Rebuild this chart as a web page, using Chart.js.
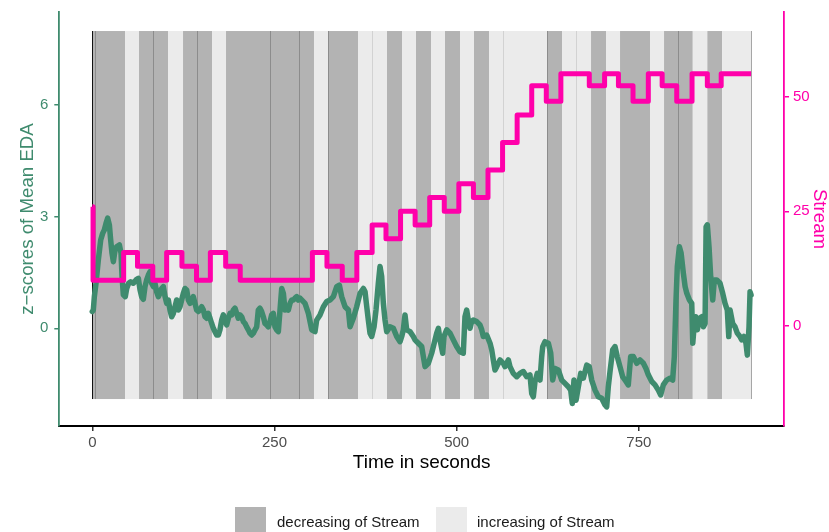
<!DOCTYPE html>
<html>
<head>
<meta charset="utf-8">
<script src="https://cdn.jsdelivr.net/npm/chart.js@4.4.0/dist/chart.umd.min.js"></script>
<style>
  html, body { margin: 0; padding: 0; background: #fff; }
  #wrap { position: relative; width: 829px; height: 532px; overflow: hidden; font-family: "Liberation Sans", Arial, sans-serif; }
  #chart { position: absolute; left: 0; top: 0; }
  .key { position: absolute; top: 507px; width: 31px; height: 29px; }
  .lab { position: absolute; top: 513px; font-size: 15px; line-height: 18px; color: #1a1a1a; white-space: nowrap; }
</style>
</head>
<body>
<div id="wrap">
  <canvas id="chart" width="829" height="532"></canvas>
  <div class="key" style="left:235px;background:#b3b3b3"></div>
  <div class="lab" style="left:277px">decreasing of Stream</div>
  <div class="key" style="left:436px;background:#ebebeb"></div>
  <div class="lab" style="left:477px">increasing of Stream</div>
</div>
<script>
// EDA z-scores over time (seconds)
const edaTime = [
  0, 1.4, 2.8, 5.1, 8.3, 11.5, 14.2, 16.5, 18.8, 21.1, 23.4, 25.2, 27.0, 28.9, 31.2, 33.4, 37.1, 39.4, 40.8, 42.6,
  45.3, 47.2, 49.9, 52.7, 56.3, 60.0, 63.2, 65.5, 67.7, 70.0, 72.3, 74.6, 76.9, 79.2, 81.5, 83.8, 86.0, 88.3, 90.6, 92.9,
  95.2, 97.5, 99.8, 102.1, 104.3, 106.6, 108.9, 111.2, 113.5, 115.8, 118.1, 120.4, 122.6, 124.9, 127.2, 129.5, 131.8, 134.1, 136.4, 138.6,
  140.9, 143.2, 145.5, 147.8, 150.1, 152.4, 154.7, 157.0, 159.2, 161.5, 163.8, 166.1, 168.4, 170.7, 173.0, 175.2, 177.5, 179.8, 182.1, 184.4,
  186.7, 189.0, 191.3, 193.5, 195.8, 198.1, 200.4, 202.7, 205.0, 207.3, 209.6, 211.8, 214.1, 216.4, 218.7, 221.0, 223.3, 225.6, 227.8, 230.1,
  232.4, 234.7, 237.0, 239.3, 241.6, 243.9, 246.1, 248.4, 250.7, 253.0, 255.3, 257.6, 259.9, 262.2, 264.4, 266.7, 269.0, 271.3, 273.6, 275.9,
  278.2, 280.5, 282.7,
  285.0, 291.9, 296.5, 301.1, 305.6, 307.9, 312.5, 317.1, 321.7, 326.2, 330.8, 335.4, 339.0, 342.2, 346.8, 351.4, 353.7, 358.2, 362.8, 367.4,
  372.0, 374.3, 376.6, 378.8, 381.1, 383.4, 386.6, 389.3, 392.5, 394.8, 397.1, 399.4, 401.7, 404.0, 408.5, 413.1, 417.7, 422.3, 424.6, 426.8,
  429.1, 431.4, 436.0, 440.5, 442.8, 447.4, 452.0, 454.3, 456.6, 461.1, 465.7, 468.0, 472.6, 474.9, 477.2, 480.8, 482.6, 486.3, 490.9, 495.4,
  500.0, 504.6, 509.1, 511.4, 513.8, 516.0, 518.3, 520.6, 522.8, 527.5, 532.0, 534.4, 536.6, 541.2, 545.8, 548.1, 550.3, 552.6, 555.0, 559.5,
  564.0, 566.4, 570.9, 573.2, 577.7, 582.4, 586.9, 591.5, 596.1, 600.6, 603.0, 605.2, 607.5, 610.7, 614.4, 616.7,
  618.1, 621.2, 625.8, 629.1, 631.8, 635.0, 639.5, 644.2, 648.7, 653.2, 656.5, 658.7, 661.0, 663.8, 667.0, 670.2, 673.8, 678.5, 682.0, 685.3,
  689.9, 694.4, 699.0, 703.6, 705.9, 708.1, 710.4, 714.1, 717.3, 720.4, 724.1, 727.8, 732.4, 735.5, 738.8, 742.4, 747.1, 751.6, 756.2, 759.8,
  763.0, 767.7, 772.2, 776.7, 780.0, 783.6, 788.2, 792.8, 796.4, 798.7, 801.0, 802.8, 805.6, 808.0, 811.1, 813.5, 815.8, 819.4, 822.6, 824.0,
  825.8, 828.1, 830.3, 833.1, 836.3, 838.6, 840.9, 842.3, 844.0, 846.3, 848.6, 851.4, 853.6, 856.9, 861.4, 865.1, 868.3, 871.4, 873.4, 875.2,
  878.8, 882.0, 885.1, 888.8, 891.1, 894.3, 897.0, 898.9, 901.2, 902.6, 904.0
];
const edaValue = [
  0.45, 0.49, 0.85, 1.21, 1.84, 2.37, 2.55, 2.64, 2.82, 2.96, 2.78, 2.37, 2.02, 1.79, 2.10, 2.19, 2.24, 2.02, 1.39, 0.90,
  0.85, 1.07, 1.21, 1.25, 1.21, 1.30, 1.34, 1.03, 0.85, 0.78, 1.12, 1.30, 1.43, 1.52, 1.21, 1.12, 1.21, 0.98, 0.85, 0.94,
  1.07, 1.12, 0.85, 0.67, 0.76, 0.49, 0.31, 0.40, 0.58, 0.76, 0.49, 0.58, 0.76, 0.94, 1.07, 1.03, 0.76, 0.67, 0.72, 0.85,
  0.67, 0.49, 0.45, 0.49, 0.58, 0.49, 0.31, 0.27, 0.40, 0.27, 0.13, 0.00, -0.09, -0.18, -0.18, -0.04, 0.22, 0.36, 0.22, 0.09,
  0.27, 0.40, 0.36, 0.49, 0.54, 0.40, 0.27, 0.36, 0.31, 0.18, 0.13, 0.04, -0.04, -0.13, -0.18, -0.13, -0.04, 0.04, 0.49, 0.54,
  0.45, 0.31, 0.13, 0.09, 0.04, 0.18, 0.36, 0.40, 0.04, -0.04, -0.09, 0.49, 1.07, 0.94, 0.49, 0.54, 0.49, 0.67, 0.76, 0.76,
  0.81, 0.85, 0.76,
  0.81, 0.67, 0.40, -0.04, -0.09, 0.22, 0.36, 0.58, 0.72, 0.76, 0.85, 1.12, 1.16, 0.85, 0.58, 0.49, 0.04, 0.27, 0.58, 0.94,
  1.07, 0.98, 0.58, 0.22, -0.13, -0.22, 0.04, 0.49, 1.21, 1.66, 1.39, 0.67, 0.22, -0.09, 0.04, 0.00, -0.22, -0.36, -0.22, -0.04,
  0.36, -0.04, -0.09, -0.22, -0.31, -0.40, -0.49, -0.76, -1.03, -0.94, -0.67, -0.49, -0.13, 0.00, -0.31, -0.67, -0.22, -0.04, -0.13, -0.31,
  -0.49, -0.63, -0.67, 0.31, 0.49, 0.22, 0.00, 0.18, 0.22, 0.18, 0.09, -0.04, -0.22, -0.18, -0.40, -0.58, -0.85, -1.12, -1.03, -0.85,
  -0.94, -1.03, -0.85, -1.03, -1.21, -1.30, -1.21, -1.16, -1.30, -1.25, -1.75, -1.84, -1.43, -1.21, -1.39, -0.76,
  -0.49, -0.36, -0.40, -0.67, -1.39, -1.08, -1.12, -1.39, -1.48, -1.57, -1.66, -2.02, -1.39, -1.93, -1.57, -1.21, -1.34, -0.99, -1.03, -1.39,
  -1.66, -1.84, -1.88, -2.06, -2.11, -1.57, -1.17, -0.58, -0.49, -0.76, -1.03, -1.30, -1.43, -1.52, -0.76, -0.76, -0.94, -0.85, -0.94, -1.08,
  -1.25, -1.43, -1.52, -1.66, -1.79, -1.52, -1.39, -1.34, -1.39, -0.76, 0.76, 1.66, 2.19, 2.02, 1.48, 1.12, 0.94, 0.76, 0.67, -0.40,
  0.04, 0.31, -0.04, 0.27, 0.31, 0.04, 0.13, 2.73, 2.78, 2.19, 1.39, 0.76, 1.30, 1.30, 1.21, 0.94, 0.67, 0.49, -0.22, 0.49,
  0.13, 0.04, -0.13, -0.22, -0.31, -0.22, -0.40, -0.72, 0.04, 0.98, 0.90
];

// Stream level, a step function (value holds from its time until the next)
const streamTime = [0, 1, 43, 62, 83, 102, 123, 143, 162, 183, 203, 302, 322, 343, 363, 384, 403, 423, 443, 463,
  483, 503, 523, 543, 563, 583, 603, 623, 643, 682, 703, 722, 742, 763, 782, 802, 823, 844, 863, 904];
const streamValue = [26, 10, 16, 13, 10, 16, 13, 10, 16, 13, 10, 16, 13, 10, 16, 22, 19, 25, 22, 28,
  25, 31, 28, 34, 40, 46, 52.4, 49, 55, 52.4, 55, 52.4, 49, 55, 52.4, 49, 55, 52.4, 55, 55];

// shaded periods
const bandStart = [0, 44.9, 64.1, 103.9, 124.5, 164.3, 183.5, 304.2, 323.9, 364.6, 404.4, 425.0, 444.2, 464.8,
  484.0, 504.6, 523.8, 544.4, 624.4, 644.6, 684.4, 705.0, 724.2, 765.3, 784.6, 824.0, 844.0, 864.2];
const bandEnd = [44.9, 64.1, 103.9, 124.5, 164.3, 183.5, 304.2, 323.9, 364.6, 404.4, 425.0, 444.2, 464.8, 484.0,
  504.6, 523.8, 544.4, 624.4, 644.6, 684.4, 705.0, 724.2, 765.3, 784.6, 824.0, 844.0, 864.2, 904];
const bandType = ['decreasing', 'increasing', 'decreasing', 'increasing', 'decreasing', 'increasing', 'decreasing',
  'increasing', 'decreasing', 'increasing', 'decreasing', 'increasing', 'decreasing', 'increasing',
  'decreasing', 'increasing', 'decreasing', 'increasing', 'decreasing', 'increasing', 'decreasing',
  'increasing', 'decreasing', 'increasing', 'decreasing', 'increasing', 'decreasing', 'increasing'];
const bandLow = -1.9, bandHigh = 7.985;
// faint joins where neighbouring rectangles meet
const seamTime = [0, 3.7, 83.7, 144.1, 244.3, 284.1, 323.9, 384.2, 564.0, 624.4, 663.8, 804.3, 904];

const xTicks = [0, 250, 500, 750];
const edaTicks = [0, 3, 6];
const streamTicks = [0, 25, 50];

const GREEN = '#3f8b6e';
const PINK = '#ff00aa';
const DARK = '#b3b3b3';
const LIGHT = '#ebebeb';
const FONT = '"Liberation Sans", Arial, sans-serif';

const bandPlugin = {
  id: 'bands',
  beforeDatasetsDraw(chart) {
    const ctx = chart.ctx;
    const xs = chart.scales.x, ys = chart.scales.y;
    const top = ys.getPixelForValue(bandHigh);
    const bottom = ys.getPixelForValue(bandLow);
    ctx.save();
    for (let i = 0; i < bandStart.length; i++) {
      const x1 = xs.getPixelForValue(bandStart[i]);
      const x2 = xs.getPixelForValue(bandEnd[i]);
      ctx.fillStyle = bandType[i] === 'decreasing' ? DARK : LIGHT;
      ctx.fillRect(x1, top, x2 - x1, bottom - top);
    }
    ctx.lineWidth = 1;
    seamTime.forEach((t, k) => {
      const i = bandStart.findIndex((s, j) => t + 0.5 >= s && t + 0.5 < bandEnd[j]);
      if (k === 0) ctx.strokeStyle = '#111';
      else if (i < 0) ctx.strokeStyle = '#a6a6a6';
      else ctx.strokeStyle = bandType[i] === 'decreasing' ? '#8c8c8c' : '#d2d2d2';
      const px = Math.round(xs.getPixelForValue(t)) + 0.5;
      ctx.beginPath();
      ctx.moveTo(px, top);
      ctx.lineTo(px, bottom);
      ctx.stroke();
    });
    ctx.restore();
  }
};

function fixTicks(list) {
  return function (scale) { scale.ticks = list.map(v => ({ value: v })); };
}

new Chart(document.getElementById('chart').getContext('2d'), {
  type: 'line',
  data: {
    datasets: [
      {
        label: 'Stream',
        data: streamTime.map((t, i) => ({ x: t, y: streamValue[i] })),
        yAxisID: 'y2',
        borderColor: PINK,
        borderWidth: 5,
        stepped: true,
        pointRadius: 0,
        borderJoinStyle: 'round',
        fill: false
      },
      {
        label: 'EDA',
        data: edaTime.map((t, i) => ({ x: t, y: edaValue[i] })),
        yAxisID: 'y',
        borderColor: GREEN,
        borderWidth: 5.5,
        pointRadius: 0,
        tension: 0,
        borderJoinStyle: 'round',
        borderCapStyle: 'round',
        fill: false
      }
    ]
  },
  options: {
    responsive: false,
    animation: false,
    devicePixelRatio: 1,
    layout: { padding: { top: 12, left: 0, right: 0, bottom: 0 } },
    plugins: { legend: { display: false }, tooltip: { enabled: false } },
    scales: {
      x: {
        type: 'linear',
        min: -45.3,
        max: 949.2,
        afterBuildTicks: fixTicks(xTicks),
        afterFit(s) { s.height = 106; },
        grid: { drawOnChartArea: false, drawTicks: true, tickLength: 5, color: '#333', lineWidth: 1.5 },
        border: { display: true, color: '#000', width: 2 },
        ticks: { color: '#4d4d4d', font: { family: FONT, size: 15 }, padding: 3, maxRotation: 0 },
        title: { display: true, text: 'Time in seconds', color: '#000',
          font: { family: FONT, size: 19, lineHeight: 1 }, padding: { top: 0, bottom: 60 } }
      },
      y: {
        position: 'left',
        min: -2.624,
        max: 8.496,
        afterBuildTicks: fixTicks(edaTicks),
        afterFit(s) { s.width = 59.3; s.paddingTop = 0; s.paddingBottom = 0; },
        grid: { drawOnChartArea: false, drawTicks: true, tickLength: 5, color: GREEN, lineWidth: 1.5 },
        border: { display: true, color: GREEN, width: 1.8 },
        ticks: { color: GREEN, font: { family: FONT, size: 15 }, padding: 6 },
        title: { display: true, text: 'z\u2212scores of Mean EDA', color: GREEN,
          font: { family: FONT, size: 18.7, lineHeight: 1 }, padding: { top: 19, bottom: 0 } }
      },
      y2: {
        position: 'right',
        min: -21.8,
        max: 68.45,
        afterBuildTicks: fixTicks(streamTicks),
        afterFit(s) { s.width = 45; s.paddingTop = 0; s.paddingBottom = 0; },
        grid: { drawOnChartArea: false, drawTicks: true, tickLength: 5, color: PINK, lineWidth: 1.5 },
        border: { display: true, color: PINK, width: 1.8 },
        ticks: { color: PINK, font: { family: FONT, size: 15 }, padding: 4 },
        title: { display: true, text: 'Stream', color: PINK,
          font: { family: FONT, size: 18.7, lineHeight: 1 }, padding: { top: 0.5, bottom: 0 } }
      }
    }
  },
  plugins: [bandPlugin]
});
</script>
</body>
</html>
